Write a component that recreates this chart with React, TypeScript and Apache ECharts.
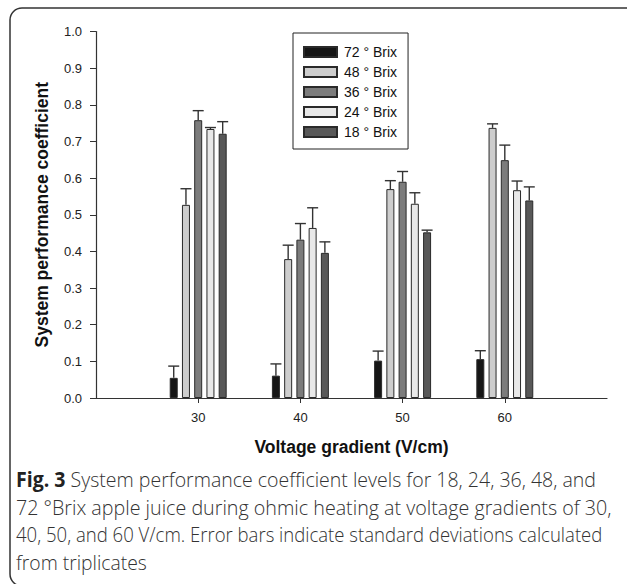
import React, { useEffect, useRef } from 'react';
import * as echarts from 'echarts';

// ---- data ----
const voltages = ['30', '40', '50', '60'];
const seriesNames = ['72 ° Brix', '48 ° Brix', '36 ° Brix', '24 ° Brix', '18 ° Brix'];
const brix72 = [0.055, 0.061, 0.102, 0.106];
const brix48 = [0.527, 0.379, 0.570, 0.737];
const brix36 = [0.758, 0.432, 0.590, 0.649];
const brix24 = [0.734, 0.464, 0.530, 0.567];
const brix18 = [0.721, 0.396, 0.452, 0.539];
const sd72 = [0.032, 0.032, 0.026, 0.023];
const sd48 = [0.044, 0.038, 0.023, 0.011];
const sd36 = [0.026, 0.044, 0.028, 0.041];
const sd24 = [0.004, 0.055, 0.030, 0.025];
const sd18 = [0.033, 0.030, 0.006, 0.037];
const yMin = 0;
const yMax = 1;
const yStep = 0.1;

const captionLines = [
  'System performance coefficient levels for 18, 24, 36, 48, and',
  '72 °Brix apple juice during ohmic heating at voltage gradients of 30,',
  '40, 50, and 60 V/cm. Error bars indicate standard deviations calculated',
  'from triplicates',
];
const captionLabel = 'Fig. 3';

const colors = ['#161616', '#cdcdcd', '#7c7c7c', '#e8e8e8', '#585858'];
const BAR_W = 8;
const BAR_GAP = 0.53;

function measure(text: string, font: string): number {
  const c = document.createElement('canvas').getContext('2d');
  if (!c) return text.length * 9;
  c.font = font;
  return c.measureText(text).width;
}

export default function App() {
  const ref = useRef<HTMLDivElement>(null);
  useEffect(() => {
    if (!ref.current) return;
    const chart = echarts.init(ref.current, null, { renderer: 'svg' });
    const values = [brix72, brix48, brix36, brix24, brix18];
    const sds = [sd72, sd48, sd36, sd24, sd18];
    const axisData = ['', ...voltages, ''];
    const showIdx = (i: number) => i >= 1 && i <= voltages.length;

    const errData: number[][] = [];
    values.forEach((arr, si) => {
      arr.forEach((v, ci) => {
        errData.push([ci + 1, si, v, sds[si][ci]]);
      });
    });
    const pitch = BAR_W * (1 + BAR_GAP);

    const capFont = 'Open Sans';
    const capSize = 21;
    const regFont = `300 ${capSize}px "Open Sans"`;
    const boldFont = `bold ${capSize}px "Open Sans"`;
    const targetW = [580, 596, 587, 131];
    const naturalW = captionLines.map((t, i) =>
      i === 0 ? measure(captionLabel, boldFont) + measure(' ' + t, regFont) : measure(t, regFont)
    );
    const lineYs = [478.5, 506.3, 534.1, 561.9];

    const captionGraphics = captionLines.map((t, i) => ({
      type: 'text',
      x: 16,
      y: lineYs[i],
      scaleX: targetW[i] / naturalW[i],
      style: {
        text: i === 0 ? `{b|${captionLabel}} ${t}` : t,
        fontSize: capSize,
        fontFamily: capFont,
        fontWeight: 300,
        fill: '#333',
        align: 'left',
        verticalAlign: 'middle',
        rich: {
          b: { fontSize: capSize, fontFamily: capFont, fontWeight: 'bold', fill: '#222' },
        },
      },
    }));

    const sans = 'Liberation Sans';
    const option: any = {
      animation: false,
      backgroundColor: '#fff',
      grid: { left: 96, right: 20, top: 31.5, bottom: 186, containLabel: false },
      legend: {
        orient: 'vertical',
        left: 293,
        top: 33,
        padding: [12, 11, 10, 10],
        itemWidth: 33,
        itemHeight: 10,
        itemGap: 6,
        borderColor: '#222',
        borderWidth: 1,
        backgroundColor: '#fff',
        selectedMode: false,
        icon: 'rect',
        data: seriesNames,
        textStyle: { fontFamily: sans, fontSize: 14, color: '#111', padding: [0, 0, 0, 2] },
      },
      xAxis: {
        type: 'category',
        data: axisData,
        boundaryGap: false,
        name: 'Voltage gradient (V/cm)',
        nameLocation: 'middle',
        nameGap: 40,
        nameTextStyle: { fontFamily: sans, fontSize: 17.5, fontWeight: 'bold', color: '#111' },
        axisLine: { lineStyle: { color: '#333', width: 1.2 } },
        axisTick: { show: true, length: 5, interval: (i: number) => showIdx(i), lineStyle: { color: '#333' } },
        axisLabel: {
          interval: (i: number) => showIdx(i),
          margin: 13,
          fontFamily: sans,
          fontSize: 13,
          color: '#222',
        },
        splitLine: { show: false },
      },
      yAxis: {
        type: 'value',
        min: yMin,
        max: yMax,
        interval: yStep,
        name: 'System performance coefficient',
        nameLocation: 'middle',
        nameGap: 45,
        nameTextStyle: { fontFamily: sans, fontSize: 17.5, fontWeight: 'bold', color: '#111' },
        axisLine: { show: true, lineStyle: { color: '#333', width: 1.2 } },
        axisTick: { show: true, length: 6, lineStyle: { color: '#333' } },
        axisLabel: {
          margin: 14,
          formatter: (v: number) => v.toFixed(1),
          fontFamily: sans,
          fontSize: 13,
          color: '#222',
        },
        splitLine: { show: false },
      },
      series: [
        ...values.map((arr, si) => ({
          type: 'bar',
          name: seriesNames[si],
          data: ['-', ...arr, '-'],
          barWidth: BAR_W,
          barGap: `${BAR_GAP * 100}%`,
          itemStyle: { color: colors[si], borderColor: '#2a2a2a', borderWidth: 1 },
        })),
        {
          type: 'custom',
          name: 'errors',
          data: errData,
          z: 5,
          encode: { x: 0, y: 2 },
          renderItem: (params: any, api: any) => {
            const ci = api.value(0);
            const si = api.value(1);
            const v = api.value(2);
            const sd = api.value(3);
            const p0 = api.coord([ci, v]);
            const p1 = api.coord([ci, v + sd]);
            const x = p0[0] + (si - 2) * pitch;
            const style = { stroke: '#333', lineWidth: 1.4 };
            return {
              type: 'group',
              children: [
                { type: 'line', shape: { x1: x, y1: p0[1], x2: x, y2: p1[1] }, style },
                { type: 'line', shape: { x1: x - 5.5, y1: p1[1], x2: x + 5.5, y2: p1[1] }, style },
              ],
            };
          },
        },
      ],
      graphic: [
        {
          type: 'rect',
          shape: { x: 10, y: 8, width: 660, height: 578, r: 12 },
          style: { fill: 'none', stroke: '#333', lineWidth: 1.5 },
          silent: true,
          z: 0,
        },
        ...captionGraphics,
      ],
    };
    chart.setOption(option);
    return () => chart.dispose();
  }, []);

  return (
    <div
      ref={ref}
      style={{ position: 'fixed', left: 0, top: 0, width: 627, height: 584, background: '#fff' }}
    />
  );
}
